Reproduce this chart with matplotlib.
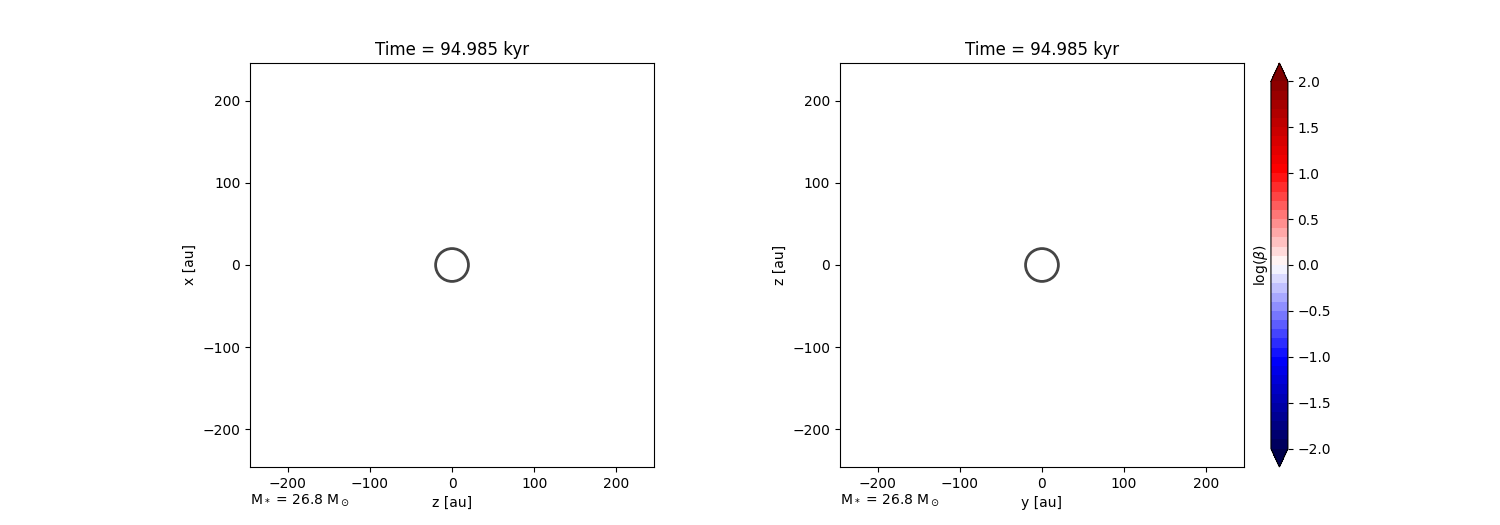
import numpy as np
import matplotlib
matplotlib.use('Agg')
import matplotlib.pyplot as plt
from matplotlib.colors import BoundaryNorm
from matplotlib.cm import ScalarMappable

time_kyr = 94.985
mstar = 26.8
box = 246.0
sink_radius = 20.0
panels = [('z [au]', 'x [au]'), ('y [au]', 'z [au]')]
levels = np.round(np.arange(-2.0, 2.0001, 0.1), 2)
cbar_ticks = [-2.0, -1.5, -1.0, -0.5, 0.0, 0.5, 1.0, 1.5, 2.0]

fig = plt.figure(figsize=(15, 5.25), dpi=100)
axes = [fig.add_axes([0.1667, 0.1105, 0.2693, 0.7695]),
        fig.add_axes([0.56, 0.1105, 0.2693, 0.7695])]

for ax, (xl, yl) in zip(axes, panels):
    ax.set_xlim(-box, box)
    ax.set_ylim(-box, box)
    ax.set_aspect('equal')
    ax.add_patch(plt.Circle((0, 0), sink_radius, fill=False, color='0.27', lw=2))
    ax.set_xticks([-200, -100, 0, 100, 200])
    ax.set_yticks([-200, -100, 0, 100, 200])
    ax.set_xlabel(xl)
    ax.set_ylabel(yl)
    ax.set_title('Time = %.3f kyr' % time_kyr)
    ax.text(0, -0.082, r'M$_*$ = %.1f M$_\odot$' % mstar, transform=ax.transAxes,
            ha='left', va='center')

cmap = plt.get_cmap('seismic', len(levels) + 1)
norm = BoundaryNorm(levels, cmap.N, extend='both')
sm = ScalarMappable(norm=norm, cmap=cmap)
cax = fig.add_axes([0.8473, 0.1105, 0.0113, 0.7695])
cb = fig.colorbar(sm, cax=cax, extend='both', ticks=cbar_ticks)
cb.minorticks_off()
cb.ax.yaxis.set_label_position('left')
cb.set_label(r'log($\beta$)', labelpad=1)
cb.ax.set_yticklabels(['%.1f' % t if t >= 0 else '\u2212%.1f' % -t for t in cbar_ticks])

fig.savefig('out.png', dpi=100)
